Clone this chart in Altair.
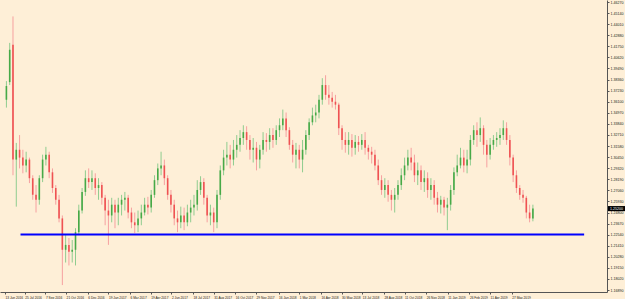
import altair as alt
import pandas as pd

open_ = [1.363, 1.381, 1.419, 1.302, 1.312, 1.304, 1.296, 1.302, 1.283, 1.266,
         1.261, 1.283, 1.302, 1.307, 1.289, 1.273, 1.261, 1.242, 1.210, 1.215,
         1.208, 1.210, 1.228, 1.250, 1.269, 1.283, 1.279, 1.283, 1.273, 1.276,
         1.263, 1.250, 1.245, 1.256, 1.248, 1.256, 1.261, 1.263, 1.248, 1.238,
         1.235, 1.242, 1.248, 1.256, 1.253, 1.266, 1.281, 1.293, 1.296, 1.283,
         1.266, 1.256, 1.242, 1.238, 1.245, 1.238, 1.248, 1.253, 1.256, 1.271,
         1.279, 1.263, 1.245, 1.248, 1.238, 1.266, 1.291, 1.304, 1.307, 1.302,
         1.312, 1.317, 1.324, 1.330, 1.322, 1.312, 1.314, 1.302, 1.312, 1.322,
         1.320, 1.327, 1.322, 1.332, 1.337, 1.344, 1.332, 1.317, 1.307, 1.312,
         1.302, 1.312, 1.327, 1.340, 1.347, 1.350, 1.363, 1.378, 1.368, 1.365,
         1.361, 1.358, 1.334, 1.322, 1.317, 1.322, 1.314, 1.320, 1.317, 1.322,
         1.314, 1.310, 1.307, 1.296, 1.281, 1.271, 1.276, 1.266, 1.261, 1.266,
         1.276, 1.286, 1.296, 1.304, 1.299, 1.286, 1.291, 1.279, 1.283, 1.271,
         1.276, 1.263, 1.256, 1.261, 1.253, 1.256, 1.271, 1.289, 1.296, 1.304,
         1.296, 1.302, 1.322, 1.332, 1.327, 1.334, 1.317, 1.307, 1.317, 1.322,
         1.324, 1.327, 1.334, 1.322, 1.304, 1.286, 1.273, 1.266, 1.263, 1.248,
         1.242]
high = [1.382, 1.421, 1.448, 1.319, 1.327, 1.312, 1.310, 1.304, 1.286, 1.276,
        1.286, 1.307, 1.315, 1.310, 1.293, 1.276, 1.266, 1.245, 1.225, 1.222,
        1.220, 1.232, 1.256, 1.273, 1.291, 1.293, 1.291, 1.288, 1.283, 1.279,
        1.266, 1.261, 1.263, 1.261, 1.263, 1.266, 1.269, 1.266, 1.253, 1.248,
        1.250, 1.256, 1.263, 1.264, 1.271, 1.286, 1.298, 1.310, 1.302, 1.286,
        1.271, 1.261, 1.250, 1.254, 1.253, 1.256, 1.261, 1.266, 1.281, 1.285,
        1.283, 1.266, 1.256, 1.253, 1.271, 1.296, 1.312, 1.320, 1.317, 1.322,
        1.327, 1.332, 1.337, 1.336, 1.327, 1.324, 1.320, 1.317, 1.330, 1.329,
        1.334, 1.334, 1.337, 1.344, 1.353, 1.350, 1.335, 1.322, 1.319, 1.317,
        1.322, 1.332, 1.344, 1.355, 1.358, 1.368, 1.385, 1.388, 1.378, 1.371,
        1.368, 1.360, 1.337, 1.330, 1.330, 1.328, 1.327, 1.326, 1.328, 1.330,
        1.317, 1.315, 1.312, 1.302, 1.286, 1.283, 1.281, 1.271, 1.273, 1.281,
        1.293, 1.304, 1.312, 1.314, 1.307, 1.299, 1.296, 1.291, 1.289, 1.283,
        1.281, 1.269, 1.265, 1.264, 1.263, 1.276, 1.294, 1.307, 1.314, 1.312,
        1.312, 1.327, 1.337, 1.340, 1.345, 1.337, 1.322, 1.324, 1.327, 1.330,
        1.334, 1.342, 1.340, 1.327, 1.307, 1.291, 1.276, 1.271, 1.265, 1.256,
        1.256]
low = [1.355, 1.378, 1.286, 1.254, 1.293, 1.288, 1.289, 1.278, 1.261, 1.248,
       1.256, 1.279, 1.296, 1.283, 1.268, 1.256, 1.238, 1.174, 1.197, 1.194,
       1.197, 1.194, 1.225, 1.247, 1.265, 1.273, 1.271, 1.266, 1.261, 1.256,
       1.235, 1.215, 1.238, 1.232, 1.235, 1.245, 1.250, 1.242, 1.232, 1.227,
       1.228, 1.235, 1.245, 1.246, 1.248, 1.263, 1.276, 1.286, 1.276, 1.261,
       1.248, 1.235, 1.228, 1.232, 1.230, 1.234, 1.238, 1.245, 1.250, 1.266,
       1.256, 1.238, 1.235, 1.228, 1.232, 1.261, 1.286, 1.296, 1.293, 1.296,
       1.304, 1.310, 1.317, 1.312, 1.302, 1.299, 1.291, 1.293, 1.307, 1.310,
       1.312, 1.314, 1.317, 1.325, 1.332, 1.325, 1.312, 1.299, 1.293, 1.293,
       1.289, 1.307, 1.322, 1.337, 1.340, 1.344, 1.358, 1.363, 1.358, 1.355,
       1.353, 1.327, 1.312, 1.309, 1.307, 1.305, 1.307, 1.310, 1.312, 1.307,
       1.302, 1.298, 1.291, 1.276, 1.266, 1.263, 1.259, 1.250, 1.248, 1.261,
       1.271, 1.281, 1.291, 1.291, 1.279, 1.276, 1.271, 1.269, 1.263, 1.261,
       1.256, 1.248, 1.247, 1.245, 1.230, 1.250, 1.266, 1.285, 1.293, 1.289,
       1.288, 1.296, 1.317, 1.315, 1.320, 1.307, 1.294, 1.302, 1.312, 1.315,
       1.317, 1.322, 1.317, 1.296, 1.279, 1.268, 1.261, 1.258, 1.242, 1.238,
       1.239]
close = [1.377, 1.414, 1.302, 1.312, 1.304, 1.296, 1.302, 1.283, 1.266, 1.261,
         1.283, 1.302, 1.307, 1.289, 1.273, 1.261, 1.242, 1.210, 1.215, 1.208,
         1.210, 1.228, 1.250, 1.269, 1.283, 1.279, 1.283, 1.273, 1.276, 1.263,
         1.250, 1.245, 1.256, 1.248, 1.256, 1.261, 1.263, 1.248, 1.238, 1.235,
         1.242, 1.248, 1.256, 1.253, 1.266, 1.281, 1.293, 1.296, 1.283, 1.266,
         1.256, 1.242, 1.238, 1.245, 1.238, 1.248, 1.253, 1.256, 1.271, 1.279,
         1.263, 1.245, 1.248, 1.238, 1.266, 1.291, 1.304, 1.307, 1.302, 1.312,
         1.317, 1.324, 1.330, 1.322, 1.312, 1.314, 1.302, 1.312, 1.322, 1.320,
         1.327, 1.322, 1.332, 1.337, 1.344, 1.332, 1.317, 1.307, 1.312, 1.302,
         1.312, 1.327, 1.340, 1.347, 1.350, 1.363, 1.378, 1.368, 1.365, 1.361,
         1.358, 1.334, 1.322, 1.317, 1.322, 1.314, 1.320, 1.317, 1.322, 1.314,
         1.310, 1.307, 1.296, 1.281, 1.271, 1.276, 1.266, 1.261, 1.266, 1.276,
         1.286, 1.296, 1.304, 1.299, 1.286, 1.291, 1.279, 1.283, 1.271, 1.276,
         1.263, 1.256, 1.261, 1.253, 1.256, 1.271, 1.289, 1.296, 1.304, 1.296,
         1.302, 1.322, 1.332, 1.327, 1.334, 1.317, 1.307, 1.317, 1.322, 1.324,
         1.327, 1.334, 1.322, 1.304, 1.286, 1.273, 1.266, 1.263, 1.248, 1.242,
         1.252]

y_ticks = [1.46270, 1.45140, 1.44010, 1.42880, 1.41750, 1.40620, 1.39490,
           1.38360, 1.37230, 1.36100, 1.34970, 1.33840, 1.32710, 1.31580,
           1.30450, 1.29320, 1.28190, 1.27060, 1.25930, 1.24800, 1.23670,
           1.22540, 1.21410, 1.20280, 1.19150, 1.18020, 1.16890]
x_tick_labels = ["2016-06-13", "2016-07-25", "2016-09-07", "2016-10-21", "2016-12-06",
                 "2017-01-19", "2017-03-06", "2017-04-19", "2017-06-02", "2017-07-18",
                 "2017-08-31", "2017-10-16", "2017-11-29", "2018-01-16", "2018-03-01",
                 "2018-04-16", "2018-05-30", "2018-07-13", "2018-08-28", "2018-10-11",
                 "2018-11-26", "2019-01-11", "2019-02-26", "2019-04-11", "2019-05-27"]
support_level = 1.2255
support_start = "2016-07-16"
support_end = "2019-10-28"

dates = pd.date_range("2016-06-16", periods=len(close), freq="7D")
df = pd.DataFrame({"date": dates, "open": open_, "high": high, "low": low, "close": close})


def dt(s):
    t = pd.Timestamp(s)
    return alt.DateTime(year=t.year, month=t.month, date=t.day)


BG = "#FEEFD7"
xscale = alt.Scale(domain=[dt("2016-06-13"), dt("2019-12-05")], nice=False)
yscale = alt.Scale(domain=[1.16694, 1.46474], nice=False, zero=False)

x_axis = alt.Axis(values=[dt(s) for s in x_tick_labels], format="%-d %b %Y",
                  labelFontSize=3.2, labelFont="Liberation Sans", labelColor="#222",
                  labelAlign="left", labelPadding=1, labelOverlap=False,
                  labelFlush=False, tickSize=2, tickColor="#555",
                  domainColor="#555", grid=False)
y_axis = alt.Axis(orient="right", values=y_ticks, format=".5f",
                  labelFontSize=3.6, labelFont="Liberation Sans", labelColor="#222",
                  labelPadding=1, labelOverlap=False, labelFlush=False,
                  tickSize=2, tickColor="#555", domainColor="#555", grid=False)

is_up = "datum.close >= datum.open"
base = alt.Chart(df)

wick = base.mark_rule(strokeWidth=1).encode(
    x=alt.X("date:T", scale=xscale, title=None, axis=x_axis),
    y=alt.Y("low:Q", scale=yscale, title=None, axis=y_axis),
    y2="high:Q",
    color=alt.condition(is_up, alt.value("#8FCC8F"), alt.value("#F6A0A0")),
)
body = base.mark_bar(size=1.6).encode(
    x=alt.X("date:T", scale=xscale, title=None, axis=x_axis),
    y=alt.Y("open:Q", scale=yscale, title=None, axis=y_axis),
    y2="close:Q",
    color=alt.condition(is_up, alt.value("#47A947"), alt.value("#EF5252")),
)

support_df = pd.DataFrame({"start": [pd.Timestamp(support_start)],
                           "end": [pd.Timestamp(support_end)],
                           "level": [support_level]})
support = alt.Chart(support_df).mark_rule(color="#0000FF", strokeWidth=2).encode(
    x=alt.X("start:T", scale=xscale, title=None, axis=x_axis),
    x2="end:T",
    y=alt.Y("level:Q", scale=yscale, title=None, axis=y_axis),
)

last = close[-1]
tag_df = pd.DataFrame({"p": [last], "lo": [last - 0.0026], "hi": [last + 0.0026],
                       "txt": [f"{last:.5f}"]})
tag_box = alt.Chart(tag_df).mark_rect(color="#000000").encode(
    x=alt.value(608), x2=alt.value(625),
    y=alt.Y("lo:Q", scale=yscale, title=None, axis=y_axis), y2="hi:Q",
)
tag_text = alt.Chart(tag_df).mark_text(align="left", baseline="middle", fontSize=3.6,
                                       font="Liberation Sans", color="#FFFFFF").encode(
    x=alt.value(610),
    y=alt.Y("p:Q", scale=yscale, title=None, axis=y_axis),
    text="txt:N",
)

chart = alt.layer(wick, body, support, tag_box, tag_text).properties(
    width=607, height=292,
    autosize=alt.AutoSizeParams(type="none"),
    padding={"left": 0, "top": 0, "right": 18, "bottom": 7},
    background=BG,
).configure_view(stroke=None, fill=BG)

chart.save("out.html", embed_options={"renderer": "svg", "actions": False})
